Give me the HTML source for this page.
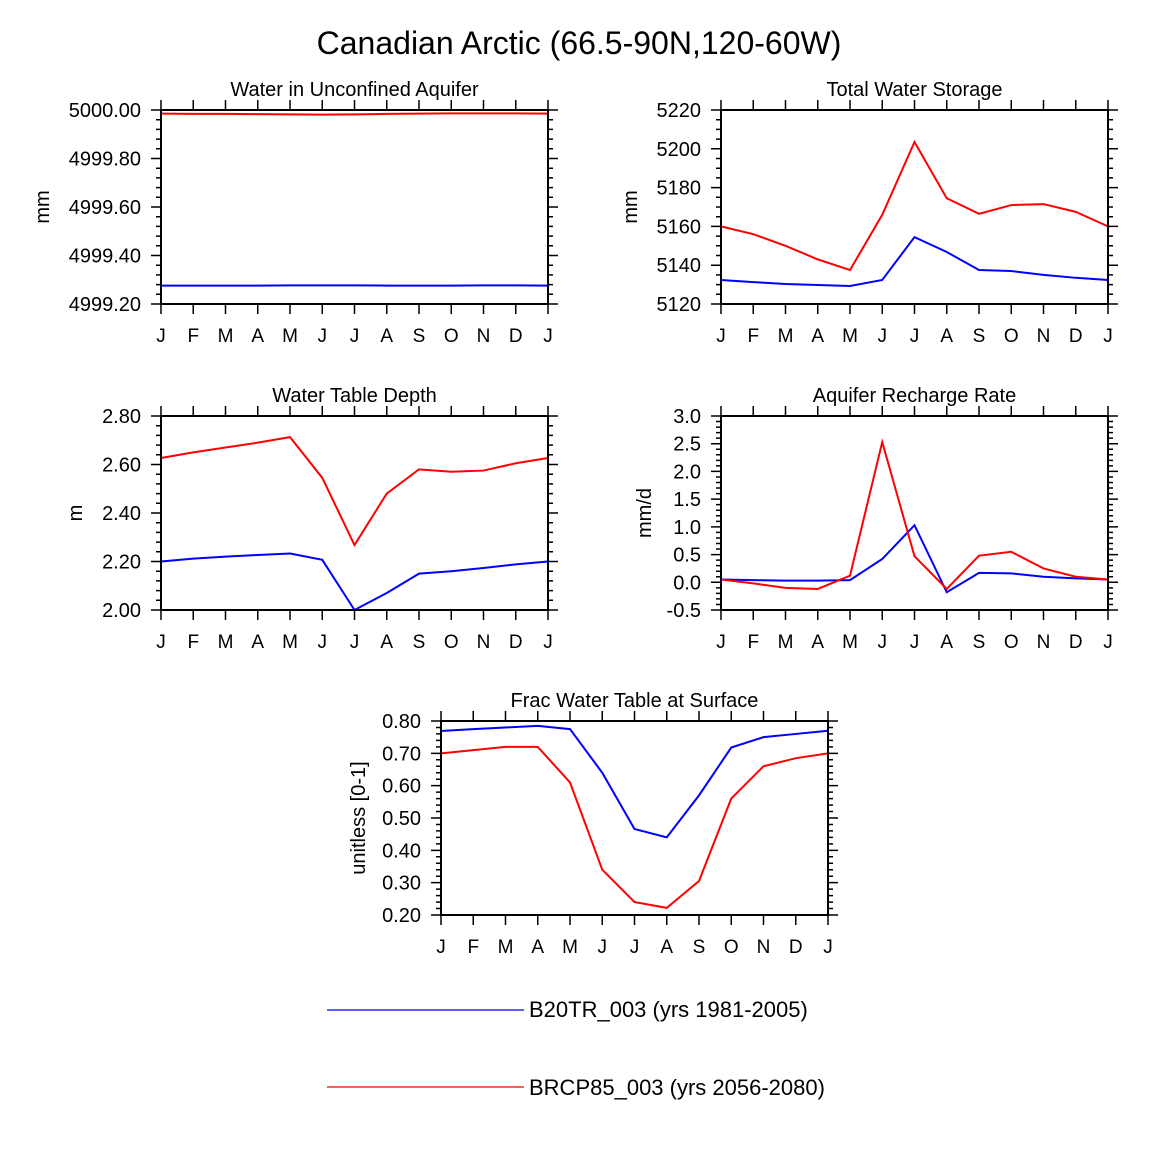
<!DOCTYPE html>
<html><head><meta charset="utf-8"><style>
body{margin:0;background:#fff;}
svg text{font-family:"Liberation Sans",Arial,sans-serif;fill:#000;}
</style></head><body>
<svg id="chart" width="1158" height="1160" xmlns="http://www.w3.org/2000/svg">
<text x="579" y="54" font-size="32" text-anchor="middle">Canadian Arctic (66.5-90N,120-60W)</text>
<line x1="327" y1="1010" x2="524" y2="1010" stroke="#00f" stroke-width="1.2"/>
<text x="529" y="1017" font-size="22">B20TR_003 (yrs 1981-2005)</text>
<line x1="327" y1="1087" x2="524" y2="1087" stroke="#f00" stroke-width="1.2"/>
<text x="529" y="1095" font-size="22">BRCP85_003 (yrs 2056-2080)</text>
</svg>
<script>
const months = ["J","F","M","A","M","J","J","A","S","O","N","D","J"];
const p1Blue = [4999.276,4999.276,4999.276,4999.276,4999.277,4999.277,4999.277,4999.276,4999.276,4999.276,4999.277,4999.277,4999.276];
const p1Red = [4999.985,4999.984,4999.984,4999.983,4999.982,4999.981,4999.982,4999.984,4999.985,4999.986,4999.986,4999.986,4999.985];
const p2Blue = [5132.4,5131.3,5130.3,5129.8,5129.3,5132.4,5154.5,5146.8,5137.5,5137,5135,5133.5,5132.4];
const p2Red = [5160,5156,5150,5143,5137.5,5166,5203.5,5174.5,5166.5,5171,5171.5,5167.5,5160];
const p3Blue = [2.2,2.212,2.22,2.227,2.233,2.207,2.0,2.07,2.15,2.16,2.173,2.188,2.2];
const p3Red = [2.627,2.65,2.67,2.69,2.713,2.545,2.268,2.48,2.58,2.57,2.575,2.605,2.627];
const p4Blue = [0.05,0.04,0.03,0.03,0.04,0.42,1.03,-0.18,0.17,0.16,0.1,0.07,0.05];
const p4Red = [0.05,-0.02,-0.1,-0.12,0.12,2.53,0.47,-0.12,0.48,0.55,0.25,0.1,0.05];
const p5Blue = [0.769,0.775,0.78,0.785,0.775,0.64,0.466,0.44,0.57,0.718,0.75,0.76,0.77];
const p5Red = [0.70,0.71,0.72,0.72,0.61,0.34,0.24,0.222,0.305,0.56,0.66,0.685,0.70];
const p1Ticks = ["4999.20","4999.40","4999.60","4999.80","5000.00"];
const p2Ticks = ["5120","5140","5160","5180","5200","5220"];
const p3Ticks = ["2.00","2.20","2.40","2.60","2.80"];
const p4Ticks = ["-0.5","0.0","0.5","1.0","1.5","2.0","2.5","3.0"];
const p5Ticks = ["0.20","0.30","0.40","0.50","0.60","0.70","0.80"];

const svg = document.getElementById('chart');
const NS = "http://www.w3.org/2000/svg";
function mk(tag, attrs){const e=document.createElementNS(NS,tag);for(const k in attrs)e.setAttribute(k,attrs[k]);svg.appendChild(e);return e;}

function panel(id, x0, y0, title, ylabel, ticks, minorPer, blue, red){
  const w=387,h=194;
  const ymin=parseFloat(ticks[0]), ymax=parseFloat(ticks[ticks.length-1]);
  const xs=i=>x0+i*w/12;
  const ys=v=>y0+h-(v-ymin)/(ymax-ymin)*h;
  const t=mk('text',{x:x0+w/2,y:y0-14,'font-size':20,'text-anchor':'middle'});t.textContent=title;
  
  
  const yl=mk('text',{transform:`translate(${x0-ylabel.off},${y0+h/2}) rotate(-90)`,'font-size':20,'text-anchor':'middle'});yl.textContent=ylabel.t;
  
  
  let d='';
  for(let i=0;i<months.length;i++){const x=xs(i);d+=`M${x},${y0}V${y0-10}M${x},${y0+h}V${y0+h+10}`;}
  const n=ticks.length-1;
  for(let j=0;j<=n;j++){
    const v=ymin+j*(ymax-ymin)/n, y=ys(v);
    d+=`M${x0},${y}H${x0-10}M${x0+w},${y}H${x0+w+10}`;
    if(j<n)for(let m=1;m<=minorPer;m++){const ym=ys(v+m*(ymax-ymin)/n/(minorPer+1));d+=`M${x0},${ym}H${x0-5}M${x0+w},${ym}H${x0+w+5}`;}
  }
  const tk=mk('path',{d:d,stroke:'#000','stroke-width':1.5,fill:'none'});
  
  
  ticks.forEach((s,j)=>{const e=mk('text',{x:x0-20,y:ys(parseFloat(s))+7,'font-size':20,'text-anchor':'end'});e.textContent=s;
    
    });
  months.forEach((s,i)=>{const e=mk('text',{x:xs(i),y:y0+h+38,'font-size':19,'text-anchor':'middle'});e.textContent=s;
    
    });
  [[blue,'#00f','blue'],[red,'#f00','red']].forEach(([arr,c,nm])=>{
    const pts=arr.map((v,i)=>xs(i)+','+ys(v)).join(' ');
    const l=mk('polyline',{points:pts,stroke:c,'stroke-width':2,fill:'none'});
    
    
  });
  const r=mk('rect',{x:x0,y:y0,width:w,height:h,fill:'none',stroke:'#000','stroke-width':2});
  
  
}
panel('unconfined-aquifer',161,110,'Water in Unconfined Aquifer',{t:'mm',off:112},p1Ticks,4,p1Blue,p1Red);
panel('total-water-storage',721,110,'Total Water Storage',{t:'mm',off:84},p2Ticks,3,p2Blue,p2Red);
panel('water-table-depth',161,416,'Water Table Depth',{t:'m',off:79},p3Ticks,4,p3Blue,p3Red);
panel('aquifer-recharge',721,416,'Aquifer Recharge Rate',{t:'mm/d',off:70},p4Ticks,4,p4Blue,p4Red);
panel('frac-water-table',441,721,'Frac Water Table at Surface',{t:'unitless [0-1]',off:76},p5Ticks,4,p5Blue,p5Red);
</script>
</body></html>
